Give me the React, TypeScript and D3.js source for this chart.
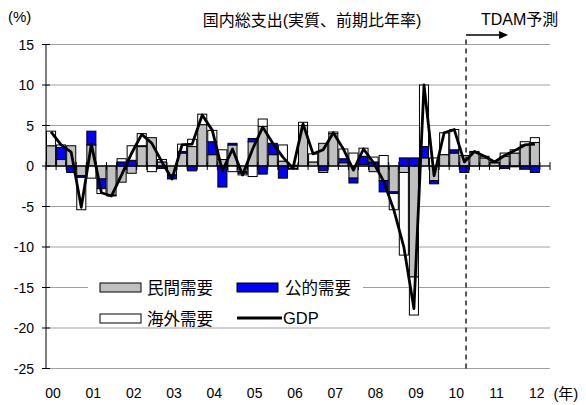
import React from "react";
import * as d3 from "d3";

const years = ["00","01","02","03","04","05","06","07","08","09","10","11","12"];
const quarters: string[] = [];
for (let y = 2000; y <= 2012; y++) for (let q = 1; q <= 4; q++) if (quarters.length < 50) quarters.push(`${y}Q${q}`);

const privateDemand = [2.5,0.8,2.5,-1.2,2.6,-1.6,-3.6,-2.0,-0.9,2.4,3.5,0.5,-1.1,1.6,2.4,5.1,1.4,0.8,2.6,-0.7,3.0,4.9,1.4,0.6,-0.3,5.0,0.5,2.8,4.0,0.4,-1.5,0.2,-0.7,-1.8,-3.2,-0.8,-13.7,1.0,-1.8,1.4,1.6,1.3,1.7,1.0,0.4,1.2,1.6,2.6,2.9,null];
const publicDemand = [0,1.5,-0.8,-0.2,1.7,-1.2,-0.1,0.5,0.7,0.1,0,-0.3,-0.5,0.2,-0.6,0,1.6,-2.6,0.2,-0.2,0.4,-1.0,1.4,-1.5,0.1,0,0,-0.6,0,0.5,-0.6,1.0,0.5,-1.4,-0.2,1.0,1.0,1.4,-0.4,0,0.4,-0.8,0,0,0,-0.3,-0.1,-0.4,-0.8,null];
const externalDemand = [1.8,0.3,0,-4.0,-1.5,-0.6,0,0.4,1.8,1.5,-0.7,0.3,0,0.9,0.9,1.3,1.4,1.2,-0.7,-0.2,-1.3,0.9,0,2.0,-0.1,0.4,1.0,-0.2,0.2,1.2,1.6,1.0,0.6,1.3,-2.0,-10.2,-4.7,7.6,1.0,2.7,2.5,0,0.1,0.2,0.1,0.4,0.4,0.4,0.6,null];
const gdp = [4.2,2.6,1.7,-5.1,2.7,-3.3,-3.7,-1.1,1.6,3.9,2.8,0.5,-1.6,2.6,2.7,6.3,4.4,-0.6,2.1,-1.1,2.1,4.8,2.8,1.1,-0.3,5.2,1.5,2.0,4.1,2.1,-0.5,2.1,0.4,-1.9,-5.4,-10.0,-17.6,10.0,-1.2,4.1,4.5,0.5,1.8,1.2,0.5,1.3,1.9,2.6,2.7,null];
const yTicks = [15,10,5,0,-5,-10,-15,-20,-25];
const seriesNames = ["民間需要","公的需要","海外需要"];
const seriesColors = ["#C0C0C0","#0000FF","#FFFFFF"];
const forecastIndex = 41.67;

const W = 586, H = 405;
const L = 46, R = 550, T = 44.5, B = 368.5;
const FONT = "'Liberation Sans', Arial, 'Noto Sans CJK JP', sans-serif";

export default function App() {
  const x = d3.scaleBand<string>().domain(quarters).range([L, R]).paddingInner(0.1).paddingOuter(0.05);
  const xi = d3.scaleLinear().domain([0, quarters.length]).range([L, R]);
  const y = d3.scaleLinear().domain([-25, 15]).range([B, T]);

  const rows = quarters.map((q, i) => ({
    q,
    p: privateDemand[i] ?? 0,
    g: publicDemand[i] ?? 0,
    e: externalDemand[i] ?? 0,
  }));
  const stack = d3.stack<any>().keys(["p","g","e"]).offset(d3.stackOffsetDiverging);
  const layers = stack(rows);

  const lineData = quarters.map((q, i) => ({ q, v: gdp[i] })).filter(d => d.v != null) as {q:string;v:number}[];
  const line = d3.line<{q:string;v:number}>().x(d => (x(d.q) as number) + x.bandwidth()/2).y(d => y(d.v));

  const step = (R - L) / quarters.length;
  const y0 = y(0);
  const fx = xi(forecastIndex);

  return (
    <svg width={W} height={H} style={{ position: "absolute", left: 0, top: 0 }} fontFamily={FONT}>
      <rect width={W} height={H} fill="#fff" />
      {yTicks.map(t => (
        <line key={t} x1={L} x2={R} y1={y(t)} y2={y(t)} stroke="#a0a0a0" strokeWidth={1} />
      ))}
      {layers.map((layer, li) => (
        <g key={li}>
          {layer.map((d, i) => {
            if (privateDemand[i] == null) return null;
            const h = Math.abs(y(d[0]) - y(d[1]));
            if (h < 0.01) return null;
            return (
              <rect key={i} x={x(quarters[i])} width={x.bandwidth()} y={Math.min(y(d[0]), y(d[1]))} height={h}
                fill={seriesColors[li]} stroke="#000" strokeWidth={1} />
            );
          })}
        </g>
      ))}
      <line x1={L} x2={L} y1={T} y2={B} stroke="#000" strokeWidth={1} />
      {yTicks.map(t => (
        <g key={t}>
          <line x1={L - 4} x2={L + 4} y1={y(t)} y2={y(t)} stroke="#000" strokeWidth={1} />
          <text x={34} y={y(t)} textAnchor="end" dominantBaseline="central" fontSize={14}>{t}</text>
        </g>
      ))}
      <line x1={L} x2={R} y1={y0} y2={y0} stroke="#000" strokeWidth={1} />
      {d3.range(quarters.length + 1).map(k => (
        <line key={k} x1={xi(k)} x2={xi(k)} y1={y0 - 4} y2={y0 + 4} stroke="#000" strokeWidth={1} />
      ))}
      <path d={line(lineData) || ""} fill="none" stroke="#000" strokeWidth={2.8} strokeLinejoin="round" />
      <line x1={fx} x2={fx} y1={T - 5} y2={B} stroke="#000" strokeWidth={1.3} strokeDasharray="5,4" />
      <line x1={fx} x2={fx + 36} y1={35} y2={35} stroke="#000" strokeWidth={1.6} />
      <path d={`M${fx + 42},35 L${fx + 33},31 L${fx + 33},39 Z`} fill="#000" />
      <text x={481} y={19} fontSize={16} dominantBaseline="central">TDAM予測</text>
      <text x={8} y={16} fontSize={15} dominantBaseline="central">(%)</text>
      <text x={312} y={20} fontSize={16} textAnchor="middle" dominantBaseline="central">国内総支出(実質、前期比年率)</text>
      {years.map((yr) => (
        <text key={yr} x={(x(`20${yr}Q1`) as number) + x.bandwidth()/2 + 2} y={393} fontSize={14} textAnchor="middle" dominantBaseline="central">{yr}</text>
      ))}
      <text x={(x("2012Q1") as number) + step/2 + 18} y={393} fontSize={15} dominantBaseline="central">(年)</text>
      <rect x={88} y={275} width={275} height={51} fill="#fff" />
      <rect x={100} y={283} width={41} height={9} fill={seriesColors[0]} stroke="#000" strokeWidth={1} />
      <text x={147} y={288} fontSize={16.5} dominantBaseline="central">{seriesNames[0]}</text>
      <rect x={237} y={283} width={41} height={9} fill={seriesColors[1]} stroke="#000" strokeWidth={1} />
      <text x={285} y={288} fontSize={16.5} dominantBaseline="central">{seriesNames[1]}</text>
      <rect x={100} y={314} width={41} height={9} fill={seriesColors[2]} stroke="#000" strokeWidth={1} />
      <text x={147} y={319} fontSize={16.5} dominantBaseline="central">{seriesNames[2]}</text>
      <line x1={237} x2={282} y1={318} y2={318} stroke="#000" strokeWidth={2.8} />
      <text x={283} y={318} fontSize={16.5} dominantBaseline="central">GDP</text>
    </svg>
  );
}
